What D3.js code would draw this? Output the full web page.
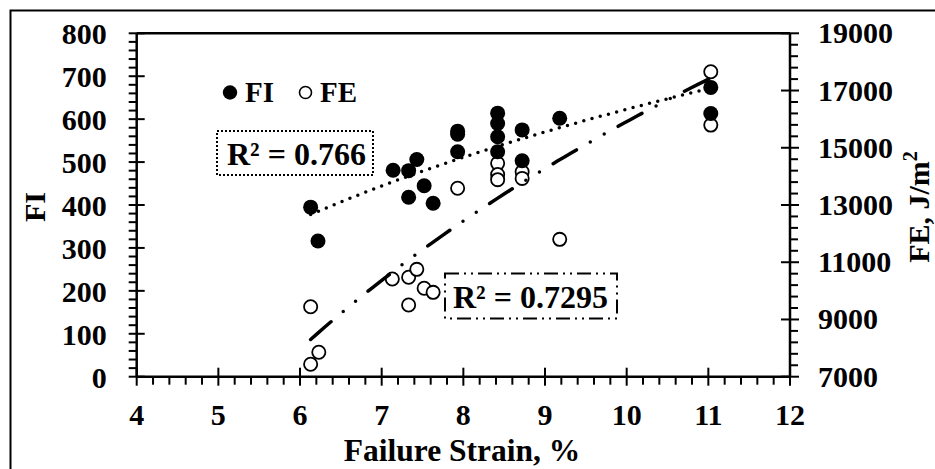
<!DOCTYPE html>
<html><head><meta charset="utf-8">
<script src="https://cdn.jsdelivr.net/npm/d3@7"></script>
<style>
body{margin:0;background:#fff}
</style></head><body>
<svg id="chart" width="935" height="469" font-family="'Liberation Serif', 'Times New Roman', Tinos, serif" font-weight="bold"></svg>
<script>
// ---- data ----
const fiStrain = [6.13, 6.22, 7.14, 7.33, 7.43, 7.33, 7.52, 7.63, 7.93, 7.93, 7.93, 8.42, 8.42, 8.42, 8.42, 8.72, 8.72, 9.18, 11.03, 11.03];
const fiValues = [395, 316, 481, 480, 506, 418, 445, 404, 572, 565, 524, 614, 590, 559, 524, 575, 503, 602, 674, 613];
const feStrain = [6.13, 6.23, 6.13, 7.13, 7.33, 7.43, 7.33, 7.52, 7.63, 7.93, 8.42, 8.42, 8.42, 8.72, 8.72, 9.18, 11.03, 11.03];
const feValues = [9445, 7852, 7433, 10414, 10473, 10752, 9505, 10090, 9948, 13585, 14455, 14065, 13885, 14163, 13930, 11800, 17657, 15793];
const xTicks = [4, 5, 6, 7, 8, 9, 10, 11, 12];
const fiTicks = [0, 100, 200, 300, 400, 500, 600, 700, 800];
const feTicks = [7000, 9000, 11000, 13000, 15000, 17000, 19000];
// logarithmic trendlines y = a*ln(x) + b
const fiTrendCoef = [501, -530.6];
const feTrendCoef = [15555, -19904];
const trendRange = [6.13, 11.03];
const r2Labels = ["R\u00B2 = 0.766", "R\u00B2 = 0.7295"];
const seriesNames = ["FI", "FE"];

const FONT = "'Liberation Serif', 'Times New Roman', Tinos, serif";
const svg = d3.select("#chart");
const L = 136.7, R = 790, T = 33.3, B = 376.7;
const x = d3.scaleLinear().domain([4, 12]).range([L, R]);
const yL = d3.scaleLinear().domain([0, 800]).range([B, T]);
const yR = d3.scaleLinear().domain([7000, 19000]).range([B, T]);

function txt(sel) {
  return sel.attr("font-family", FONT).attr("font-weight", "bold").attr("fill", "#000");
}

// outer frame (only left/top visible)
svg.append("rect").attr("x", 10.5).attr("y", 10.5).attr("width", 1000).attr("height", 1000)
  .attr("fill", "none").attr("stroke", "#000").attr("stroke-width", 2);

const ax = svg.append("g").attr("stroke", "#000");
ax.append("line").attr("x1", L).attr("x2", R).attr("y1", B).attr("y2", B).attr("stroke-width", 2.5);
ax.append("line").attr("x1", L).attr("x2", R).attr("y1", T).attr("y2", T).attr("stroke-width", 2.5);
ax.append("line").attr("x1", L).attr("x2", L).attr("y1", T).attr("y2", B).attr("stroke-width", 2.5);
ax.append("line").attr("x1", R).attr("x2", R).attr("y1", T).attr("y2", B).attr("stroke-width", 2.5);

const xMinor = d3.range(4, 12.001, 0.2).filter(v => Math.abs(v - Math.round(v)) > 0.01);
ax.selectAll(".xmin").data(xMinor).join("line").attr("x1", d => x(d)).attr("x2", d => x(d))
  .attr("y1", B).attr("y2", B + 8).attr("stroke-width", 2);
ax.selectAll(".xmaj").data(xTicks).join("line").attr("x1", d => x(d)).attr("x2", d => x(d))
  .attr("y1", B - 9).attr("y2", B + 9).attr("stroke-width", 2);
const lMinor = d3.range(0, 801, 20).filter(v => v % 100 !== 0);
ax.selectAll(".lmin").data(lMinor).join("line").attr("y1", d => yL(d)).attr("y2", d => yL(d))
  .attr("x1", L - 8).attr("x2", L).attr("stroke-width", 2);
ax.selectAll(".lmaj").data(fiTicks).join("line").attr("y1", d => yL(d)).attr("y2", d => yL(d))
  .attr("x1", L - 8).attr("x2", L + 8).attr("stroke-width", 2);
const rMinor = d3.range(7000, 19001, 400).filter(v => (v - 7000) % 2000 !== 0);
ax.selectAll(".rmin").data(rMinor).join("line").attr("y1", d => yR(d)).attr("y2", d => yR(d))
  .attr("x1", R).attr("x2", R + 8).attr("stroke-width", 2);
ax.selectAll(".rmaj").data(feTicks).join("line").attr("y1", d => yR(d)).attr("y2", d => yR(d))
  .attr("x1", R - 9).attr("x2", R + 9).attr("stroke-width", 2);

const fs = 30;
txt(svg.append("g").selectAll("text").data(xTicks).join("text"))
  .attr("x", d => x(d)).attr("y", B + 48).attr("text-anchor", "middle").attr("font-size", fs).text(d => d);
txt(svg.append("g").selectAll("text").data(fiTicks).join("text"))
  .attr("x", L - 30).attr("y", d => yL(d) + 11).attr("text-anchor", "end").attr("font-size", fs).text(d => d);
txt(svg.append("g").selectAll("text").data(feTicks).join("text"))
  .attr("x", R + 28).attr("y", d => yR(d) + 10).attr("text-anchor", "start").attr("font-size", fs).text(d => d);

txt(svg.append("text")).attr("x", 462).attr("y", 461).attr("text-anchor", "middle").attr("font-size", 31.5)
  .text("Failure Strain, %");
txt(svg.append("text")).attr("transform", "translate(45,207) rotate(-90)").attr("text-anchor", "middle")
  .attr("font-size", fs).text("FI");
const rt = txt(svg.append("text")).attr("transform", "translate(929,207) rotate(-90)").attr("text-anchor", "middle")
  .attr("font-size", fs);
rt.append("tspan").text("FE, J/m");
rt.append("tspan").attr("font-size", 20).attr("dy", -12).text("2");

svg.append("g").selectAll("circle").data(feStrain.map((s, i) => [s, feValues[i]])).join("circle")
  .attr("cx", d => x(d[0])).attr("cy", d => yR(d[1])).attr("r", 6.6)
  .attr("fill", "#fff").attr("stroke", "#000").attr("stroke-width", 1.8);
svg.append("g").selectAll("circle").data(fiStrain.map((s, i) => [s, fiValues[i]])).join("circle")
  .attr("cx", d => x(d[0])).attr("cy", d => yL(d[1])).attr("r", 7.5).attr("fill", "#000");

const xs = d3.range(0, 61).map(i => trendRange[0] + (trendRange[1] - trendRange[0]) * i / 60);
const fiLine = d3.line().x(d => x(d)).y(d => yL(fiTrendCoef[0] * Math.log(d) + fiTrendCoef[1]));
const feLine = d3.line().x(d => x(d)).y(d => yR(feTrendCoef[0] * Math.log(d) + feTrendCoef[1]));
svg.append("path").attr("d", fiLine(xs)).attr("fill", "none").attr("stroke", "#000")
  .attr("stroke-width", 3.5).attr("stroke-linecap", "round").attr("stroke-dasharray", "0 8.5");
svg.append("path").attr("d", feLine(xs)).attr("fill", "none").attr("stroke", "#000")
  .attr("stroke-width", 3.5).attr("stroke-linecap", "round").attr("stroke-dasharray", "27 16 0 16 0 16");

svg.append("circle").attr("cx", 230).attr("cy", 92.5).attr("r", 7.2).attr("fill", "#000");
txt(svg.append("text")).attr("x", 245).attr("y", 102).attr("font-size", 29).text(seriesNames[0]);
svg.append("circle").attr("cx", 305.5).attr("cy", 92.5).attr("r", 6).attr("fill", "#fff")
  .attr("stroke", "#000").attr("stroke-width", 1.6);
txt(svg.append("text")).attr("x", 320).attr("y", 102).attr("font-size", 29).text(seriesNames[1]);

svg.append("rect").attr("x", 217).attr("y", 131).attr("width", 156).attr("height", 44)
  .attr("fill", "#fff").attr("stroke", "#000").attr("stroke-width", 2).attr("stroke-dasharray", "2 2");
txt(svg.append("text")).attr("x", 227).attr("y", 165).attr("font-size", 32).text(r2Labels[0]);
svg.append("rect").attr("x", 445).attr("y", 273.5).attr("width", 172).attr("height", 45)
  .attr("fill", "#fff").attr("stroke", "#000").attr("stroke-width", 2).attr("stroke-dasharray", "14 5 2 5 2 5");
txt(svg.append("text")).attr("x", 453).attr("y", 308).attr("font-size", 32).text(r2Labels[1]);
</script>
</body></html>
